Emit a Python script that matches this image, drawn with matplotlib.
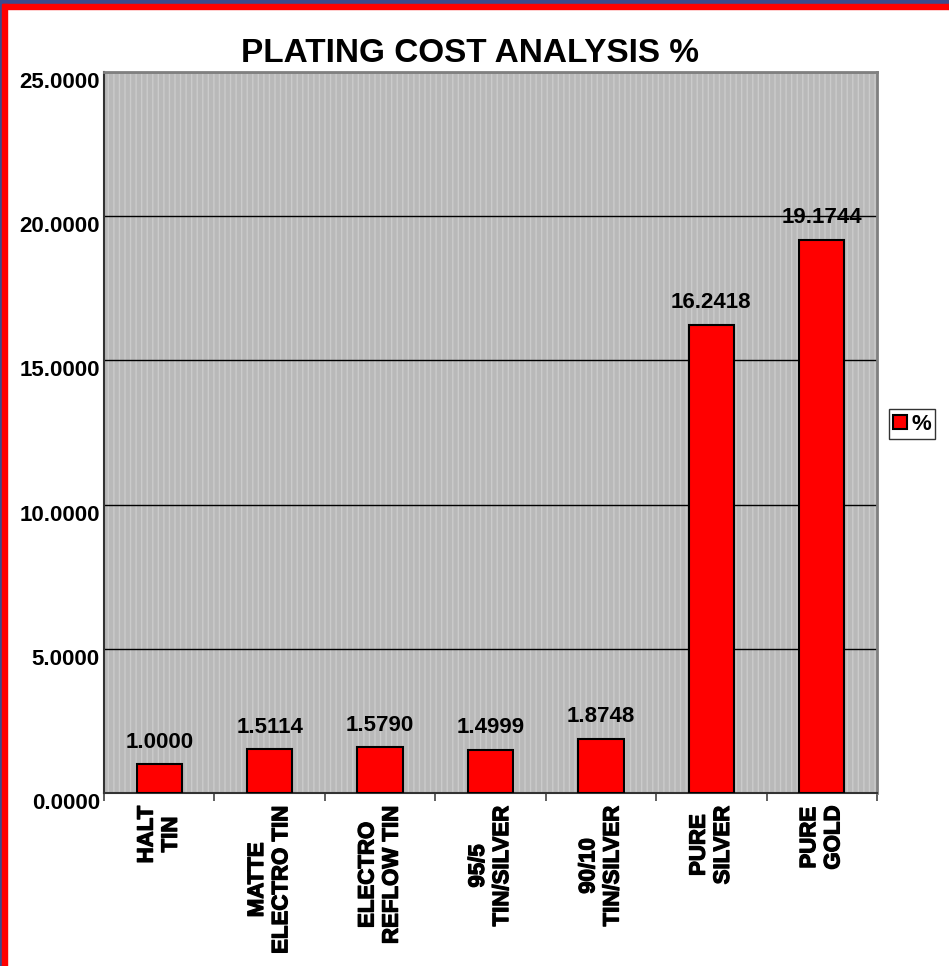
import numpy as np
import matplotlib
matplotlib.use('Agg')
from matplotlib import pyplot as plt
from matplotlib import patheffects
from matplotlib.patches import Rectangle, Patch
from matplotlib.transforms import ScaledTranslation
from matplotlib.font_manager import FontProperties

plt.rcParams['font.family'] = ['Liberation Sans', 'DejaVu Sans']
plt.rcParams['font.weight'] = 'bold'
plt.rcParams['hatch.linewidth'] = 1.0

categories = ['HALT\nTIN', 'MATTE\nELECTRO TIN', 'ELECTRO\nREFLOW TIN', '95/5\nTIN/SILVER',
              '90/10\nTIN/SILVER', 'PURE\nSILVER', 'PURE\nGOLD']
values = [1.0000, 1.5114, 1.5790, 1.4999, 1.8748, 16.2418, 19.1744]
yticks = [0, 5, 10, 15, 20, 25]

boldfont = FontProperties(family='Liberation Sans', weight='bold', size=16)

fig = plt.figure(figsize=(9.49, 9.66), dpi=100)
ax = fig.add_axes([104/949, 1-793/966, (877-104)/949, (793-72)/966])

# striped grey plot background
ax.set_facecolor('#b9b9b9')
ax.add_patch(Rectangle((0, 0), 1, 1, transform=ax.transAxes, fill=False,
                       hatch='|||', edgecolor='#cbcbcb', linewidth=0, zorder=0.5))

x = np.arange(len(values))
bars = ax.bar(x, values, width=0.41, color='#ff0000', edgecolor='black', linewidth=1.5, zorder=3,
              label='%')
for xi, v in zip(x, values):
    ax.text(xi, v + 0.4, '{:.4f}'.format(v), ha='center', va='bottom', fontproperties=boldfont,
            zorder=4)

ax.set_xlim(-0.5, len(values) - 0.5)
ax.set_ylim(0, 25)
ax.tick_params(axis='y', length=0, pad=3)
ax.tick_params(axis='x', which='major', length=0, pad=9)
ax.tick_params(axis='x', which='minor', length=6, width=1.2, color='#444444')

ax.set_yticks(yticks)
ax.set_yticklabels(['{:.4f}'.format(t) for t in yticks], fontproperties=boldfont)
off = ScaledTranslation(0, -0.08, fig.dpi_scale_trans)
for lab in ax.get_yticklabels():
    lab.set_transform(lab.get_transform() + off)

ax.set_xticks(x)
ax.set_xticks(np.arange(-0.5, len(values)), minor=True)
ax.set_xticklabels(categories, rotation=90, fontproperties=boldfont,
                   multialignment='center', va='top', ha='center')
# rotated glyphs come out thin, give them a light outline
for lab in ax.get_xticklabels():
    lab.set_path_effects([patheffects.withStroke(linewidth=0.9, foreground='black')])

ax.grid(axis='y', color='black', linewidth=1.0, zorder=1)
ax.set_axisbelow(True)
for s in ['top', 'right']:
    ax.spines[s].set_color('#808080')
    ax.spines[s].set_linewidth(2)
for s in ['left', 'bottom']:
    ax.spines[s].set_color('#333333')
    ax.spines[s].set_linewidth(1.5)

fig.text(470/949, 1-62/966, 'PLATING COST ANALYSIS %', ha='center', va='baseline',
         fontsize=24, fontweight='bold')

leg = fig.legend(handles=[Patch(facecolor='#ff0000', edgecolor='black', linewidth=1.5, label='%')],
                 loc='center', bbox_to_anchor=(912/949, 1-424/966), prop=boldfont, frameon=True,
                 fancybox=False, handlelength=0.6, handleheight=0.6, handletextpad=0.2,
                 borderpad=0.2, borderaxespad=0)
leg.get_frame().set_edgecolor('black')
leg.get_frame().set_linewidth(1.0)

# frame bands along top and left edge
W, H = 949, 966
fig.patches.append(Rectangle((0, 1-4/H), 1, 4/H, transform=fig.transFigure, color='#3d4a8c'))
fig.patches.append(Rectangle((0, 1-9/H), 1, 5/H, transform=fig.transFigure, color='#ff0000'))
fig.patches.append(Rectangle((0, 0), 2/W, 1, transform=fig.transFigure, color='#3d4a8c'))
fig.patches.append(Rectangle((2/W, 0), 5/W, 1-4/H, transform=fig.transFigure, color='#ff0000'))

fig.savefig('out.png', dpi=100)
